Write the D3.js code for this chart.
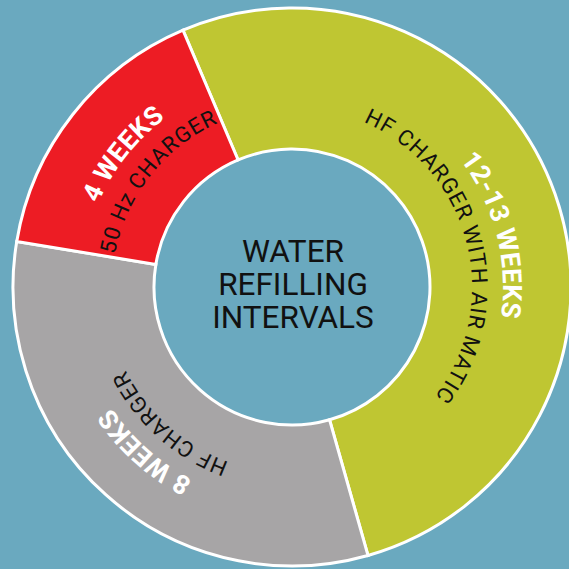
<!DOCTYPE html>
<html>
<head>
<meta charset="utf-8">
<script src="https://cdn.jsdelivr.net/npm/d3@7"></script>
<style>
  html, body { margin: 0; padding: 0; background: #6aa9bf; }
  svg { display: block; }
</style>
</head>
<body>
<svg id="chart" width="569" height="569"></svg>
<script>
// ---- data ----
const categories = ["12-13 WEEKS", "8 WEEKS", "4 WEEKS"];
const sublabels = ["HF CHARGER WITH AIR MATIC", "HF CHARGER", "50 Hz CHARGER"];
const weeks = [13, 8, 4];
const colors = ["#bfc632", "#a7a5a6", "#ed1c24"];
const titleLines = ["WATER", "REFILLING", "INTERVALS"];

// ---- layout ----
const W = 569, H = 569;
const cx = 292, cy = 287;
const rOuter = 279, rInner = 138;
const startDeg = -23;
const boldBase = 211, regBase = 180;           // baseline radii
const radialShift = [0, 6, 0];                 // per-slice label adjustments
const angleShift = [5, 0, 0];

const svg = d3.select("#chart");
svg.append("rect").attr("width", W).attr("height", H).attr("fill", "#6aa9bf");

const g = svg.append("g").attr("transform", `translate(${cx},${cy})`);

const rad = d => d * Math.PI / 180;
const pie = d3.pie().sort(null).value(d => d)
  .startAngle(rad(startDeg)).endAngle(rad(startDeg) + 2 * Math.PI);
const arcs = pie(weeks);

const arc = d3.arc().innerRadius(rInner).outerRadius(rOuter);

g.selectAll("path.slice").data(arcs).join("path")
  .attr("class", "slice")
  .attr("d", arc)
  .attr("fill", (d, i) => colors[i])
  .attr("stroke", "#ffffff")
  .attr("stroke-width", 3);

// curved label paths (clockwise, glyph tops point outward)
const defs = svg.append("defs");
function curve(theta, r) {
  const p = d3.path();
  const m = theta - Math.PI / 2;
  p.arc(0, 0, r, m - Math.PI / 2, m + Math.PI / 2, false);
  return p.toString();
}
arcs.forEach((d, i) => {
  const mid = (d.startAngle + d.endAngle) / 2 + rad(angleShift[i]);
  defs.append("path").attr("id", "lb" + i).attr("d", curve(mid, boldBase + radialShift[i]));
  defs.append("path").attr("id", "lr" + i).attr("d", curve(mid, regBase + radialShift[i]));
});

g.selectAll("text.big").data(arcs).join("text")
  .attr("class", "big")
  .attr("font-family", "Roboto, 'Open Sans', sans-serif")
  .attr("font-weight", 700)
  .attr("font-size", 26.5)
  .attr("letter-spacing", 0.3)
  .attr("fill", "#ffffff")
  .append("textPath")
  .attr("href", (d, i) => "#lb" + i)
  .attr("startOffset", "50%")
  .attr("text-anchor", "middle")
  .text((d, i) => categories[i]);

g.selectAll("text.small").data(arcs).join("text")
  .attr("class", "small")
  .attr("font-family", "Roboto, 'Open Sans', sans-serif")
  .attr("font-weight", 400)
  .attr("font-size", 22)
  .attr("letter-spacing", 1)
  .attr("fill", "#111111")
  .append("textPath")
  .attr("href", (d, i) => "#lr" + i)
  .attr("startOffset", "50%")
  .attr("text-anchor", "middle")
  .text((d, i) => sublabels[i]);

// centre title
const lineY = d3.scaleLinear().domain([0, titleLines.length - 1]).range([-25, 41]);
g.selectAll("text.title").data(titleLines).join("text")
  .attr("class", "title")
  .attr("x", 1)
  .attr("y", (d, i) => lineY(i))
  .attr("text-anchor", "middle")
  .attr("font-family", "Roboto, sans-serif")
  .attr("font-size", 31.5)
  .attr("fill", "#111111")
  .text(d => d);
</script>
</body>
</html>
